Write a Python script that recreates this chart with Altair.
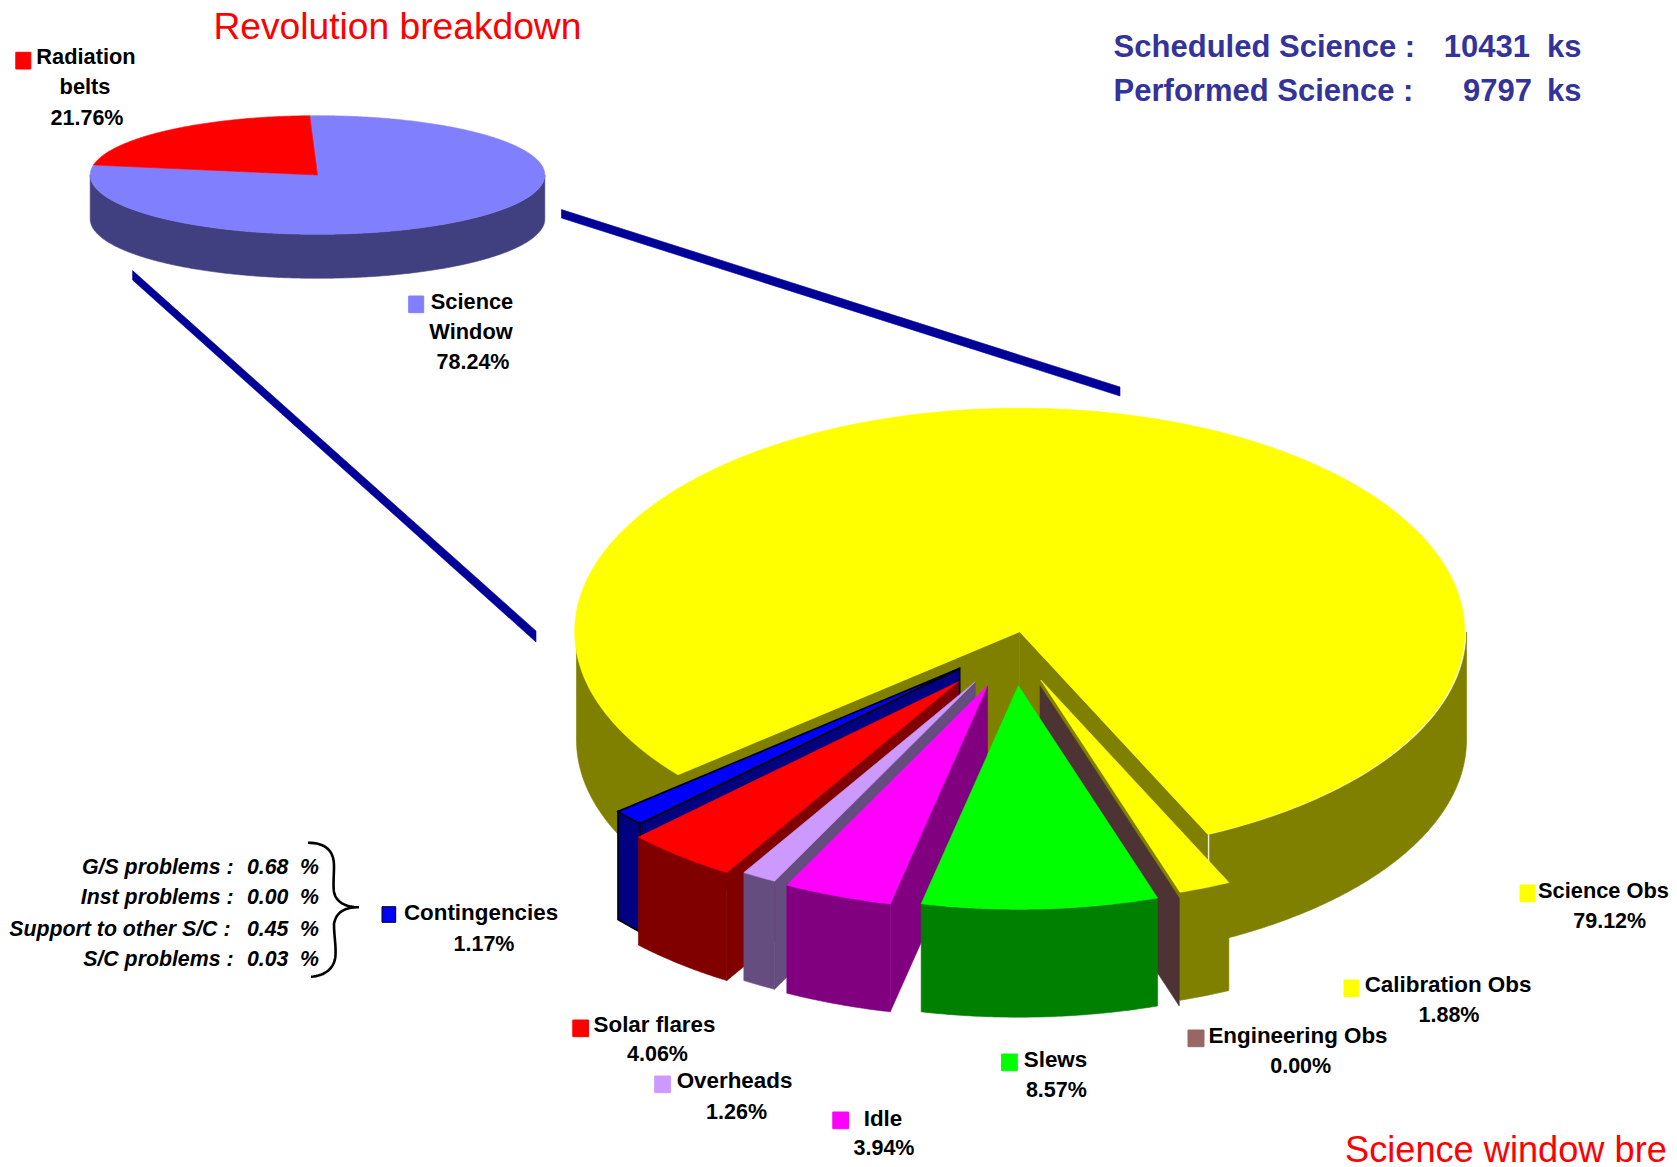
import math
import altair as alt
import pandas as pd

# ---- values ----
TOP_LABELS = ["Radiation belts", "Science Window"]
TOP_SHARES = [21.76, 78.24]

MAIN_LABELS = ["Calibration Obs", "Engineering Obs", "Slews", "Idle", "Overheads", "Solar flares", "Contingencies", "Science Obs"]
MAIN_SHARES = [1.88, 0.00, 8.57, 3.94, 1.26, 4.06, 1.17, 79.12]

CONT_LABELS = ["G/S problems :", "Inst problems :", "Support to other S/C :", "S/C problems :"]
CONT_VALUES = ["0.68", "0.00", "0.45", "0.03"]

SCHEDULED = ["Scheduled Science :", "10431", "ks"]
PERFORMED = ["Performed Science :", "9797", "ks"]
TITLES = ["Revolution breakdown", "Science window bre"]

# ---- layout and style ----
W, H, M = 1669, 1167, 8
FONT = "Liberation Sans"
TOP = dict(cx=317.5, cy=175.0, rx=227.3, ry=59.3, depth=44.0)
BIG = dict(cx=1021.5, cy=632.0, rx=445.0, ry=223.5, depth=108.0)
START_ANGLE = 155.0     # clockwise from 12 o'clock, where Calibration Obs begins
TOP_START = -80.3
APEX = {
    "Calibration Obs": (1040.8, 680.0),
    "Engineering Obs": (1040.0, 685.7),
    "Slews": (1018.4, 685.7),
    "Idle": (987.5, 685.7),
    "Overheads": (975.3, 681.7),
    "Solar flares": (958.3, 681.7),
    "Contingencies": (959.7, 668.3),
    "Science Obs": (1019.7, 631.7),
}
COLORS = {
    "Calibration Obs": ("#FFFF00", "#808000"),
    "Engineering Obs": ("#996666", "#4D3333"),
    "Slews": ("#00FF00", "#008000"),
    "Idle": ("#FF00FF", "#800080"),
    "Overheads": ("#CC99FF", "#664D80"),
    "Solar flares": ("#FF0000", "#800000"),
    "Contingencies": ("#0000FF", "#000080"),
    "Science Obs": ("#FFFF00", "#808000"),
}
TOP_COLORS = {"Radiation belts": ("#FF0000", "#800000"), "Science Window": ("#8080FF", "#404080")}
NAVY = "#000099"


def point(apex, g, deg):
    a = math.radians(deg)
    return (apex[0] + g["rx"] * math.sin(a), apex[1] - g["ry"] * math.cos(a))


def arc(apex, g, a0, a1):
    n = max(2, int(abs(a1 - a0) * 2) + 1)
    return [point(apex, g, a0 + (a1 - a0) * i / (n - 1)) for i in range(n)]


features = []


def poly(pts, fill, stroke=None, sw=0.6):
    ring = [list(p) for p in pts] + [list(pts[0])]
    features.append({"type": "Feature", "geometry": {"type": "Polygon", "coordinates": [ring]},
                     "properties": {"fill": fill, "stroke": stroke or fill, "sw": sw}})


def path(pts, stroke, sw):
    features.append({"type": "Feature", "geometry": {"type": "LineString", "coordinates": [list(p) for p in pts]},
                     "properties": {"fill": "transparent", "stroke": stroke, "sw": sw}})


def sector(apex, g, a0, a1, fill, stroke=None, sw=0.6):
    poly([apex] + arc(apex, g, a0, a1), fill, stroke, sw)


def side(apex, g, a0, a1, fill, stroke=None, sw=0.6):
    # outer wall: only the part of the rim facing the viewer
    for k in (-360, 0, 360):
        lo, hi = max(a0 + k, 90), min(a1 + k, 270)
        if lo < hi:
            top = arc(apex, g, lo, hi)
            poly(top + [(x, y + g["depth"]) for x, y in reversed(top)], fill, stroke, sw)


def wall(apex, g, deg, fill, stroke=None, sw=0.6):
    e = point(apex, g, deg)
    d = g["depth"]
    poly([apex, e, (e[0], e[1] + d), (apex[0], apex[1] + d)], fill, stroke, sw)


# connector lines between the two pies
poly([(561.5, 209.6), (1120, 387), (1120, 396), (561.5, 218)], NAVY)
poly([(132.6, 270.6), (536, 631), (536, 642), (132.6, 280)], NAVY)

# small pie
t0 = TOP_START
spans = {}
for lab, s in zip(TOP_LABELS, TOP_SHARES):
    spans[lab] = (t0, t0 + s * 3.6)
    t0 += s * 3.6
tc = (TOP["cx"], TOP["cy"])
a0, a1 = spans["Science Window"]
side(tc, TOP, a0, a1, TOP_COLORS["Science Window"][1])
sector(tc, TOP, a0, a1, TOP_COLORS["Science Window"][0])
a0, a1 = spans["Radiation belts"]
sector(tc, TOP, a0, a1, TOP_COLORS["Radiation belts"][0])

# big pie
t0 = START_ANGLE
main = {}
for lab, s in zip(MAIN_LABELS, MAIN_SHARES):
    main[lab] = (t0, t0 + s * 3.6)
    t0 += s * 3.6

a0, a1 = main["Science Obs"]
ap = APEX["Science Obs"]
side((BIG["cx"], BIG["cy"]), BIG, a0, a1, COLORS["Science Obs"][1])
wall(ap, BIG, a0, COLORS["Science Obs"][1])
wall(ap, BIG, a1, COLORS["Science Obs"][1])
sector(ap, BIG, a0, a1, COLORS["Science Obs"][0])

# right-hand slices, back to front
a0, a1 = main["Calibration Obs"]
ap = APEX["Calibration Obs"]
wall(ap, BIG, a1, COLORS["Calibration Obs"][1])
side(ap, BIG, a0, a1, COLORS["Calibration Obs"][1])
sector(ap, BIG, a0, a1, COLORS["Calibration Obs"][0])

a0, a1 = main["Engineering Obs"]
wall(APEX["Engineering Obs"], BIG, a1, COLORS["Engineering Obs"][1])

# left-hand slices, left to right
a0, a1 = main["Contingencies"]
ap = APEX["Contingencies"]
wall(ap, BIG, a0, COLORS["Contingencies"][1], "#000000", 1.6)
side(ap, BIG, a0, a1, COLORS["Contingencies"][1], "#000000", 1.6)
sector(ap, BIG, a0, a1, COLORS["Contingencies"][0], "#000000", 1.6)

for lab in ["Solar flares", "Overheads", "Idle"]:
    a0, a1 = main[lab]
    ap = APEX[lab]
    wall(ap, BIG, a0, COLORS[lab][1])
    side(ap, BIG, a0, a1, COLORS[lab][1])
    sector(ap, BIG, a0, a1, COLORS[lab][0])

a0, a1 = main["Slews"]
ap = APEX["Slews"]
side(ap, BIG, a0, a1, COLORS["Slews"][1])
sector(ap, BIG, a0, a1, COLORS["Slews"][0])

# curly brace


def bez(p0, p1, p2, p3, n=16):
    out = []
    for i in range(n + 1):
        t = i / n
        u = 1 - t
        out.append((u**3 * p0[0] + 3 * u * u * t * p1[0] + 3 * u * t * t * p2[0] + t**3 * p3[0],
                    u**3 * p0[1] + 3 * u * u * t * p1[1] + 3 * u * t * t * p2[1] + t**3 * p3[1]))
    return out


brace = (bez((308, 842.7), (325, 843), (334, 850), (334, 866))
         + bez((334, 866), (334, 875), (333, 885), (334, 892))
         + bez((334, 892), (336, 902), (345, 907), (359, 907.3))
         + bez((359, 907.3), (345, 907), (336, 912), (334, 924))
         + bez((334, 924), (334, 935), (336, 945), (335.5, 955))
         + bez((335.5, 955), (335, 968), (325, 976), (311, 976.7)))
path(brace, "#000000", 2.6)

geo = alt.Chart(alt.Data(values=features)).mark_geoshape().encode(
    fill=alt.Fill("properties.fill:N", scale=None),
    stroke=alt.Stroke("properties.stroke:N", scale=None),
    strokeWidth=alt.StrokeWidth("properties.sw:Q", scale=None),
).project(type="identity", scale=1, translate=[-M, -M])

XS = alt.Scale(domain=[M, W], range=[0, W - M])
YS = alt.Scale(domain=[M, H], range=[0, H - M])


def texts(rows, align="center", size=21.5, weight="bold", style="normal", color="#000000"):
    df = pd.DataFrame(rows, columns=["t", "x", "y"])
    return alt.Chart(df).mark_text(font=FONT, align=align, baseline="alphabetic", fontSize=size,
                                   fontWeight=weight, fontStyle=style, color=color, clip=False).encode(
        x=alt.X("x:Q", scale=XS, axis=None), y=alt.Y("y:Q", scale=YS, axis=None), text="t:N")


share = dict(zip(TOP_LABELS + MAIN_LABELS, TOP_SHARES + MAIN_SHARES))
pct = lambda k: f"{share[k]:.2f}%"

names_small = [
    ("Radiation", 86, 63.5), ("belts", 85, 94),
    ("Science", 472, 309), ("Window", 471, 339),
    ("Science Obs", 1603.5, 898),
]
names_large = [
    ("Contingencies", 481, 920),
    ("Solar flares", 654.5, 1031.7),
    ("Overheads", 734.5, 1088.3),
    ("Idle", 883, 1125.5),
    ("Slews", 1055.5, 1067.3),
    ("Engineering Obs", 1298, 1043.3),
    ("Calibration Obs", 1448, 991.7),
]
percents = [
    (pct("Radiation belts"), 87, 124.5), (pct("Science Window"), 473, 369),
    (pct("Contingencies"), 484, 951), (pct("Solar flares"), 657.5, 1061),
    (pct("Overheads"), 736.6, 1119), (pct("Idle"), 884, 1155),
    (pct("Slews"), 1056.4, 1096.7), (pct("Engineering Obs"), 1300.7, 1072.7),
    (pct("Calibration Obs"), 1449, 1021.7), (pct("Science Obs"), 1609.7, 928.3),
]

cont_y = [874, 904, 936, 966]
cont_right = [233.5, 233.5, 230.5, 233.5]
cont_lab = [(t, x, y) for t, x, y in zip(CONT_LABELS, cont_right, cont_y)]
cont_val = [(t, 247, y) for t, y in zip(CONT_VALUES, cont_y)]
cont_pc = [("%", 300, y) for y in cont_y]

swatch_rows = [
    ("Radiation belts", 15.8, 30.8, 52.3, 69),
    ("Science Window", 408.7, 423.7, 296, 312.7),
    ("Contingencies", 382, 395.7, 906.7, 922.3),
    ("Solar flares", 572.8, 588.5, 1020, 1036.7),
    ("Overheads", 654.7, 670.4, 1076, 1092.7),
    ("Idle", 832.8, 848.5, 1112, 1128.7),
    ("Slews", 1001.6, 1017.3, 1054, 1070.7),
    ("Engineering Obs", 1188, 1204, 1030, 1046.7),
    ("Calibration Obs", 1344, 1358.7, 980, 996.7),
    ("Science Obs", 1520, 1535, 885, 901.7),
]
all_colors = {**COLORS, **TOP_COLORS}
sw_df = pd.DataFrame(swatch_rows, columns=["k", "x0", "x1", "y0", "y1"])
sw_df["fill"] = [all_colors[k][0] for k in sw_df["k"]]
sw_df["stroke"] = ["#000000" if k == "Contingencies" else c for k, c in zip(sw_df["k"], sw_df["fill"])]
swatches = alt.Chart(sw_df).mark_rect(strokeWidth=1).encode(
    x=alt.X("x0:Q", scale=XS, axis=None), x2="x1:Q",
    y=alt.Y("y0:Q", scale=YS, axis=None), y2="y1:Q",
    fill=alt.Fill("fill:N", scale=None), stroke=alt.Stroke("stroke:N", scale=None))

BLUE = "#333399"
chart = alt.layer(
    geo,
    swatches,
    texts(names_small, size=21.8),
    texts(names_large, size=22.4),
    texts(percents),
    texts(cont_lab, align="right", size=21.3, style="italic"),
    texts(cont_val + cont_pc, align="left", size=21.3, style="italic"),
    texts([(TITLES[0], 213.4, 39)], align="left", size=37.2, weight="normal", color="#FF0000"),
    texts([(TITLES[1], 1345, 1161.5)], align="left", size=36.2, weight="normal", color="#FF0000"),
    texts([(SCHEDULED[0], 1113.6, 57.3), (PERFORMED[0], 1113.6, 100.7),
           (SCHEDULED[2], 1547, 57.3), (PERFORMED[2], 1547, 100.7)], align="left", size=31, color=BLUE),
    texts([(SCHEDULED[1], 1530, 57.3), (PERFORMED[1], 1532, 100.7)], align="right", size=31, color=BLUE),
).properties(
    width=W - M, height=H - M, padding=0, background="white",
    autosize=alt.AutoSizeParams(type="none"),
).configure_view(stroke=None)

chart.save("out.html", embed_options={"renderer": "svg", "actions": False})
